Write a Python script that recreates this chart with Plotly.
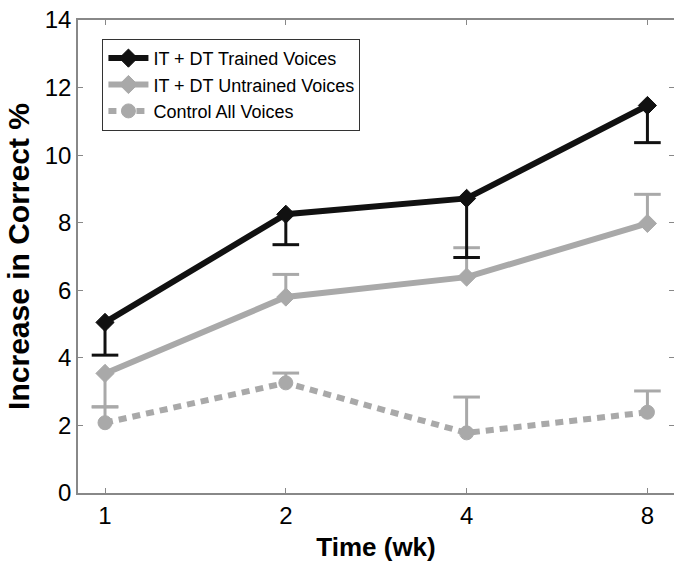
import plotly.graph_objects as go
import math

weeks = [1, 2, 4, 8]
tick_labels = ["1", "2", "4", "8"]

trained = [5.05, 8.25, 8.72, 11.47]
trained_err_hi = [0, 0, 0, 0]
trained_err_lo = [0.97, 0.90, 1.75, 1.10]

untrained = [3.54, 5.80, 6.39, 7.98]
untrained_err_hi = [0, 0.67, 0.87, 0.86]
untrained_err_lo = [0.99, 0, 0, 0]

control = [2.08, 3.26, 1.78, 2.39]
control_err_hi = [0.47, 0.29, 1.06, 0.63]
control_err_lo = [0, 0, 0, 0]

BLACK = "#111111"
GRAY = "#a9a9a9"
FONT = "Arial, Liberation Sans, sans-serif"

fig = go.Figure()


def add_series(name, y, hi, lo, color, symbol, msize, dash):
    cx, cy = [], []
    for xi, yi, h, l in zip(weeks, y, hi, lo):
        if h > 0:
            cx.append(xi); cy.append(yi + h)
        if l > 0:
            cx.append(xi); cy.append(yi - l)
    fig.add_trace(go.Scatter(
        x=cx, y=cy, mode="markers", showlegend=False, hoverinfo="skip",
        marker=dict(symbol="line-ew", size=19, color=color,
                    line=dict(color=color, width=3))))
    fig.add_trace(go.Scatter(
        x=weeks, y=y, name=name, mode="lines+markers",
        line=dict(color=color, width=6, dash=dash),
        marker=dict(symbol=symbol, size=msize, color=color,
                    line=dict(color=color, width=1)),
        error_y=dict(type="data", symmetric=False, array=hi, arrayminus=lo,
                     color=color, thickness=3, width=0)))


add_series("Control All Voices", control, control_err_hi, control_err_lo,
           GRAY, "circle", 14, "8px,6px")
add_series("IT + DT Untrained Voices", untrained, untrained_err_hi, untrained_err_lo,
           GRAY, "diamond", 14, "solid")
add_series("IT + DT Trained Voices", trained, trained_err_hi, trained_err_lo,
           BLACK, "diamond", 14, "solid")

l2 = math.log10(2)
fig.update_layout(
    width=674, height=565,
    margin=dict(l=78, r=0, t=20, b=72),
    plot_bgcolor="white", paper_bgcolor="white",
    font=dict(family=FONT, color="black"),
    showlegend=True,
    legend=dict(x=0.041, y=0.96, xanchor="left", yanchor="top",
                traceorder="reversed", bgcolor="white",
                bordercolor="#333333", borderwidth=1,
                font=dict(size=18, family=FONT), itemwidth=40,
                tracegroupgap=0),
    xaxis=dict(type="log", range=[-0.1494 * l2, 3.147 * l2], automargin=False,
               tickvals=weeks, ticktext=tick_labels,
               ticks="inside", ticklen=5, tickcolor="#888888",
               showline=True, linecolor="#888888", linewidth=1.5, mirror="ticks",
               showgrid=False, zeroline=False,
               tickfont=dict(size=24, family=FONT),
               title=dict(text="<b>Time (wk)</b>", font=dict(size=26, family=FONT),
                          standoff=10)),
    yaxis=dict(range=[0, 14], tickvals=[0, 2, 4, 6, 8, 10, 12, 14], automargin=False,
               ticks="inside", ticklen=5, tickcolor="#888888",
               showline=True, linecolor="#888888", linewidth=1.5, mirror="ticks",
               showgrid=False, zeroline=False,
               tickfont=dict(size=24, family=FONT),
               title=dict(text="<b>Increase in Correct %</b>",
                          font=dict(size=30, family=FONT), standoff=6)),
)

fig.write_html("out.html", config={"displayModeBar": False},
               post_script="document.body.style.margin='0';document.body.style.overflow='hidden';")
